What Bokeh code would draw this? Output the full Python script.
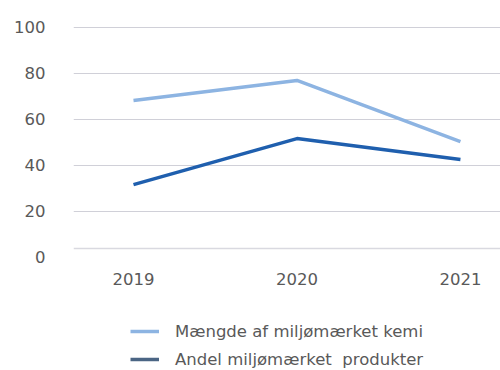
from bokeh.plotting import figure
from bokeh.models import Range1d, Span, Legend, LegendItem, FixedTicker
from bokeh.embed import file_html
from bokeh.resources import INLINE

years = [2019, 2020, 2021]
maengde = [68.3, 77.0, 50.4]
andel = [31.7, 51.7, 42.6]
y_ticks = [0, 20, 40, 60, 80, 100]
series_names = ["Mængde af miljømærket kemi", "Andel miljømærket  produkter"]

FONT = "DejaVu Sans"
GRAY = "#595959"

p = figure(width=500, height=370, output_backend="svg", toolbar_location=None,
           x_range=Range1d(2018.633, 2021.245), y_range=Range1d(-49.13, 103.04),
           min_border_left=73, min_border_right=0, min_border_top=20, min_border_bottom=0)
p.outline_line_color = None
p.background_fill_color = "white"
p.border_fill_color = "white"

p.yaxis.ticker = FixedTicker(ticks=y_ticks)
p.xaxis.ticker = FixedTicker(ticks=years)
p.xaxis.fixed_location = 0
for ax in (p.xaxis, p.yaxis):
    ax.axis_line_color = None
    ax.major_tick_line_color = None
    ax.minor_tick_line_color = None
    ax.major_label_text_font = FONT
    ax.major_label_text_font_size = "16.5px"
    ax.major_label_text_color = GRAY
p.yaxis.major_label_standoff = 22
p.xaxis.major_label_standoff = 10
p.xgrid.grid_line_color = None
p.ygrid.grid_line_color = "#d0d0d8"
p.ygrid.grid_line_width = 1
p.ygrid.ticker = FixedTicker(ticks=[20, 40, 60, 80, 100])

p.add_layout(Span(location=3.9, dimension="width", line_color="#d9d9e0", line_width=1.5))

r1 = p.line(years, maengde, line_color="#8db4e2", line_width=3.5)
r2 = p.line(years, andel, line_color="#1f5fae", line_width=3.5)
# legend swatch for second series (slate tone in the original legend); single point draws nothing
s2 = p.line(years[:1], andel[:1], line_color="#4b6584", line_width=3.5)

legend = Legend(items=[LegendItem(label=series_names[0], renderers=[r1]),
                       LegendItem(label=series_names[1], renderers=[s2])],
                location=(57, 1), orientation="vertical",
                border_line_color=None, background_fill_alpha=0,
                padding=0, margin=0, spacing=8,
                glyph_width=29, glyph_height=20, label_height=20,
                label_standoff=16,
                label_text_font=FONT, label_text_font_size="16.5px",
                label_text_color=GRAY)
p.add_layout(legend, "center")

open("out.html", "w").write(file_html(p, INLINE))
